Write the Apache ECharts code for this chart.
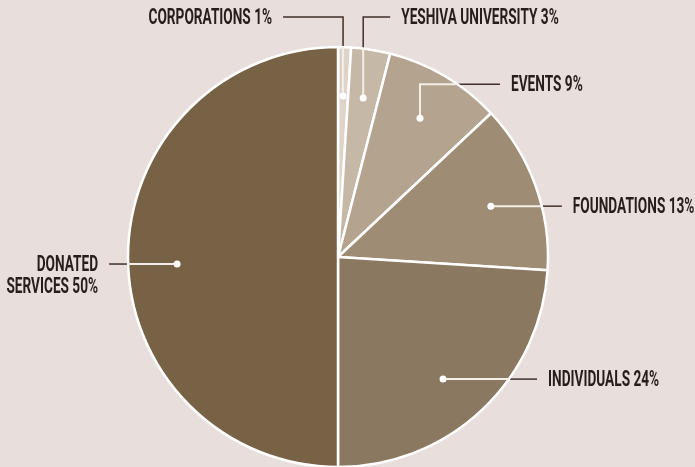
<!DOCTYPE html>
<html>
<head>
<meta charset="utf-8">
<script src="https://cdn.jsdelivr.net/npm/echarts@6/dist/echarts.min.js"></script>
<style>
  html, body { margin: 0; padding: 0; background: #e8dfdc; }
  #chart { width: 695px; height: 467px; }
</style>
</head>
<body>
<div id="chart"></div>
<script>
const categories = ['CORPORATIONS', 'YESHIVA UNIVERSITY', 'EVENTS', 'FOUNDATIONS', 'INDIVIDUALS', 'DONATED\nSERVICES'];
const shares = [1, 3, 9, 13, 24, 50];
const sliceColors = ['#ddd3c8', '#c6b8a7', '#b4a38e', '#9f8c74', '#8a7860', '#776245'];

// leader lines: turn = degrees the dot is rotated off the slice middle (clockwise +),
// rise = vertical part going up from the dot, run = horizontal part (negative = to the left)
const leaders = [
    {turn: 0, rise: 79, run: -60},
    {turn: 0, rise: 81, run: 27},
    {turn: 0, rise: 34, run: 80},
    {turn: 1.4, rise: 0, run: 71},
    {turn: 2.5, rise: 0, run: 94},
    {turn: -2.5, rise: 0, run: -68}
];
const dotRatio = 0.767;
const textGap = 11;
const lineHeight = 22;
const narrow = 0.62; // the original face is a condensed one

const chart = echarts.init(document.getElementById('chart'));

function leaderPath(params) {
    const layout = chart.getModel().getSeriesByIndex(params.seriesIndex).getData().getItemLayout(params.dataIndex);
    const lead = leaders[params.dataIndex];
    const mid = (layout.startAngle + layout.endAngle) / 2 + lead.turn * Math.PI / 180;
    const dot = [layout.cx + layout.r * dotRatio * Math.cos(mid), layout.cy + layout.r * dotRatio * Math.sin(mid)];
    const corner = [dot[0], dot[1] - lead.rise];
    const end = [corner[0] + lead.run, corner[1]];
    // where the leader leaves the pie
    let cross = null, crossSeg = 0;
    const segs = [[dot, corner], [corner, end]];
    for (let s = 0; s < segs.length && !cross; s++) {
        const a = segs[s][0], b = segs[s][1];
        const steps = 400;
        for (let k = 1; k <= steps; k++) {
            const t = k / steps;
            const x = a[0] + (b[0] - a[0]) * t, y = a[1] + (b[1] - a[1]) * t;
            if (Math.hypot(x - layout.cx, y - layout.cy) >= layout.r) {
                cross = [x, y];
                crossSeg = s;
                break;
            }
        }
    }
    if (!cross) cross = end;
    return {dot, corner, end, cross, crossSeg};
}

const pieData = categories.map((name, i) => ({
    name: name,
    value: shares[i],
    itemStyle: {color: sliceColors[i]}
}));

const option = {
    backgroundColor: '#e8dfdc',
    animation: false,
    series: [
        {
            type: 'pie',
            center: [338, 257],
            radius: 210,
            startAngle: 90,
            clockwise: true,
            avoidLabelOverlap: false,
            itemStyle: {borderColor: '#ffffff', borderWidth: 2.5},
            label: {
                show: true,
                position: 'outside',
                formatter: '{b} {c}%',
                color: '#261e1b',
                fontFamily: 'Roboto, sans-serif',
                fontWeight: 'bold',
                fontSize: 22,
                lineHeight: lineHeight
            },
            labelLine: {
                show: true,
                lineStyle: {color: '#3f2f28', width: 1.5}
            },
            labelLayout: function (params) {
                const p = leaderPath(params);
                const right = leaders[params.dataIndex].run >= 0;
                const pts = p.crossSeg === 0 ? [p.cross, p.corner, p.end] : [p.cross, p.cross, p.end];
                return {
                    x: p.end[0] + (right ? textGap : -textGap),
                    y: p.end[1] - lineHeight / 2 + 1.5,
                    align: right ? 'left' : 'right',
                    verticalAlign: 'top',
                    labelLinePoints: pts
                };
            },
            data: pieData
        },
        {
            type: 'pie',
            center: [338, 257],
            radius: 210,
            startAngle: 90,
            clockwise: true,
            silent: true,
            z: 3,
            avoidLabelOverlap: false,
            itemStyle: {color: 'transparent', borderWidth: 0},
            label: {
                show: true,
                position: 'outside',
                formatter: ' ',
                width: 7,
                height: 7,
                padding: 0,
                fontSize: 7,
                lineHeight: 7,
                borderRadius: 4,
                backgroundColor: '#ffffff'
            },
            labelLine: {
                show: true,
                lineStyle: {color: '#f4eee8', width: 2}
            },
            labelLayout: function (params) {
                const p = leaderPath(params);
                const pts = p.crossSeg === 0 ? [p.dot, p.cross, p.cross] : [p.dot, p.corner, p.cross];
                return {
                    x: p.dot[0],
                    y: p.dot[1],
                    align: 'center',
                    verticalAlign: 'middle',
                    labelLinePoints: pts
                };
            },
            data: categories.map((name, i) => ({name: name, value: shares[i]}))
        }
    ]
};

chart.setOption(option);

// squeeze the label text horizontally around its anchor
const labelData = chart.getModel().getSeriesByIndex(0).getData();
labelData.each(function (i) {
    const el = labelData.getItemGraphicEl(i);
    const text = el && el.getTextContent();
    if (text) {
        text.scaleX = narrow;
        text.markRedraw();
    }
});
chart.getZr().refresh();
</script>
</body>
</html>
